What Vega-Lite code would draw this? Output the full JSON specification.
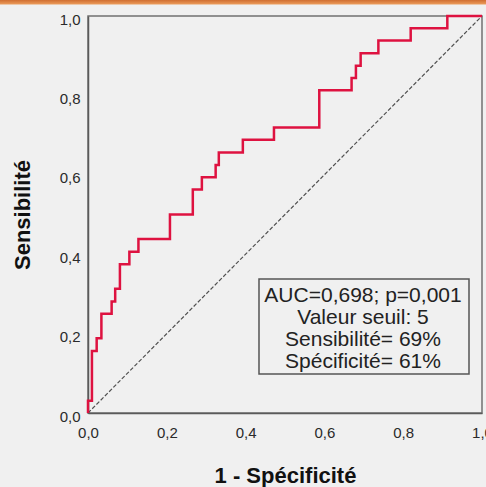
{
  "$schema": "https://vega.github.io/schema/vega-lite/v6.json",
  "width": 394,
  "height": 397,
  "autosize": "none",
  "padding": {"left": 88, "top": 16, "right": 4, "bottom": 74},
  "background": "#f0f0f0",
  "config": {
    "font": "Liberation Sans",
    "view": {"stroke": "#707070", "strokeWidth": 1.5, "fill": "#f0f0f0"},
    "axis": {
      "grid": false,
      "ticks": false,
      "domainColor": "#5a5a5a",
      "domainWidth": 1.5,
      "labelFont": "Liberation Sans",
      "labelFontSize": 15,
      "labelColor": "#2a2a2a",
      "labelFlush": false,
      "labelOverlap": false,
      "labelBound": false,
      "titleFont": "Liberation Sans",
      "titleFontSize": 22,
      "titleFontWeight": "bold",
      "titleColor": "#111111"
    }
  },
  "datasets": {
    "roc": [
      {"fpr": 0.0, "tpr": 0.0},
      {"fpr": 0.0, "tpr": 0.031},
      {"fpr": 0.010, "tpr": 0.156},
      {"fpr": 0.022, "tpr": 0.188},
      {"fpr": 0.034, "tpr": 0.25},
      {"fpr": 0.060, "tpr": 0.281},
      {"fpr": 0.069, "tpr": 0.313},
      {"fpr": 0.081, "tpr": 0.375},
      {"fpr": 0.105, "tpr": 0.406},
      {"fpr": 0.128, "tpr": 0.438},
      {"fpr": 0.208, "tpr": 0.5},
      {"fpr": 0.266, "tpr": 0.563},
      {"fpr": 0.289, "tpr": 0.594},
      {"fpr": 0.324, "tpr": 0.625},
      {"fpr": 0.332, "tpr": 0.656},
      {"fpr": 0.393, "tpr": 0.688},
      {"fpr": 0.472, "tpr": 0.719},
      {"fpr": 0.587, "tpr": 0.813},
      {"fpr": 0.669, "tpr": 0.844},
      {"fpr": 0.680, "tpr": 0.875},
      {"fpr": 0.692, "tpr": 0.906},
      {"fpr": 0.737, "tpr": 0.938},
      {"fpr": 0.819, "tpr": 0.969},
      {"fpr": 0.912, "tpr": 1.0},
      {"fpr": 1.0, "tpr": 1.0}
    ],
    "diag": [
      {"fpr": 0, "tpr": 0},
      {"fpr": 1, "tpr": 1}
    ],
    "note": [
      {"lines": ["AUC=0,698; p=0,001", "Valeur seuil: 5", "Sensibilité= 69%", "Spécificité= 61%"]}
    ]
  },
  "layer": [
    {
      "data": {"name": "diag"},
      "mark": {"type": "line", "color": "#505050", "strokeWidth": 1.2, "strokeDash": [4, 2]},
      "encoding": {
        "x": {
          "field": "fpr", "type": "quantitative",
          "scale": {"domain": [0, 1], "nice": false, "zero": false},
          "axis": {
            "title": "1 - Spécificité",
            "values": [0, 0.2, 0.4, 0.6, 0.8, 1],
            "labelExpr": "replace(format(datum.value, '.1f'), '.', ',')",
            "labelPadding": 12,
            "titlePadding": 25
          }
        },
        "y": {
          "field": "tpr", "type": "quantitative",
          "scale": {"domain": [0, 1], "nice": false, "zero": false},
          "axis": {
            "title": "Sensibilité",
            "values": [0, 0.2, 0.4, 0.6, 0.8, 1],
            "labelExpr": "replace(format(datum.value, '.1f'), '.', ',')",
            "labelPadding": 8,
            "labelOffset": 3,
            "titlePadding": 25
          }
        }
      }
    },
    {
      "data": {"name": "roc"},
      "mark": {"type": "line", "interpolate": "step-after", "color": "#de1240", "strokeWidth": 2.5},
      "encoding": {
        "x": {"field": "fpr", "type": "quantitative"},
        "y": {"field": "tpr", "type": "quantitative"},
        "order": [{"field": "tpr"}, {"field": "fpr"}]
      }
    },
    {
      "data": {"name": "note"},
      "mark": {"type": "rect", "fill": null, "stroke": "#555555", "strokeWidth": 1.5},
      "encoding": {
        "x": {"datum": 0.434, "type": "quantitative"},
        "x2": {"datum": 0.967},
        "y": {"datum": 0.0982, "type": "quantitative"},
        "y2": {"datum": 0.3375}
      }
    },
    {
      "data": {"name": "note"},
      "mark": {"type": "text", "align": "center", "baseline": "middle", "fontSize": 21, "lineHeight": 22, "font": "Liberation Sans", "color": "#222222"},
      "encoding": {
        "x": {"datum": 0.698, "type": "quantitative"},
        "y": {"datum": 0.2955, "type": "quantitative"},
        "text": {"field": "lines"}
      }
    },
    {
      "data": {"name": "note"},
      "mark": {
        "type": "rect",
        "fill": {"gradient": "linear", "x1": 0, "y1": 0, "x2": 0, "y2": 1, "stops": [{"offset": 0, "color": "#c2561a"}, {"offset": 1, "color": "#ec9d5c"}]}
      },
      "encoding": {
        "x": {"datum": -0.24, "type": "quantitative"},
        "x2": {"datum": 1.03},
        "y": {"datum": 1.0292, "type": "quantitative"},
        "y2": {"datum": 1.046}
      }
    }
  ]
}
